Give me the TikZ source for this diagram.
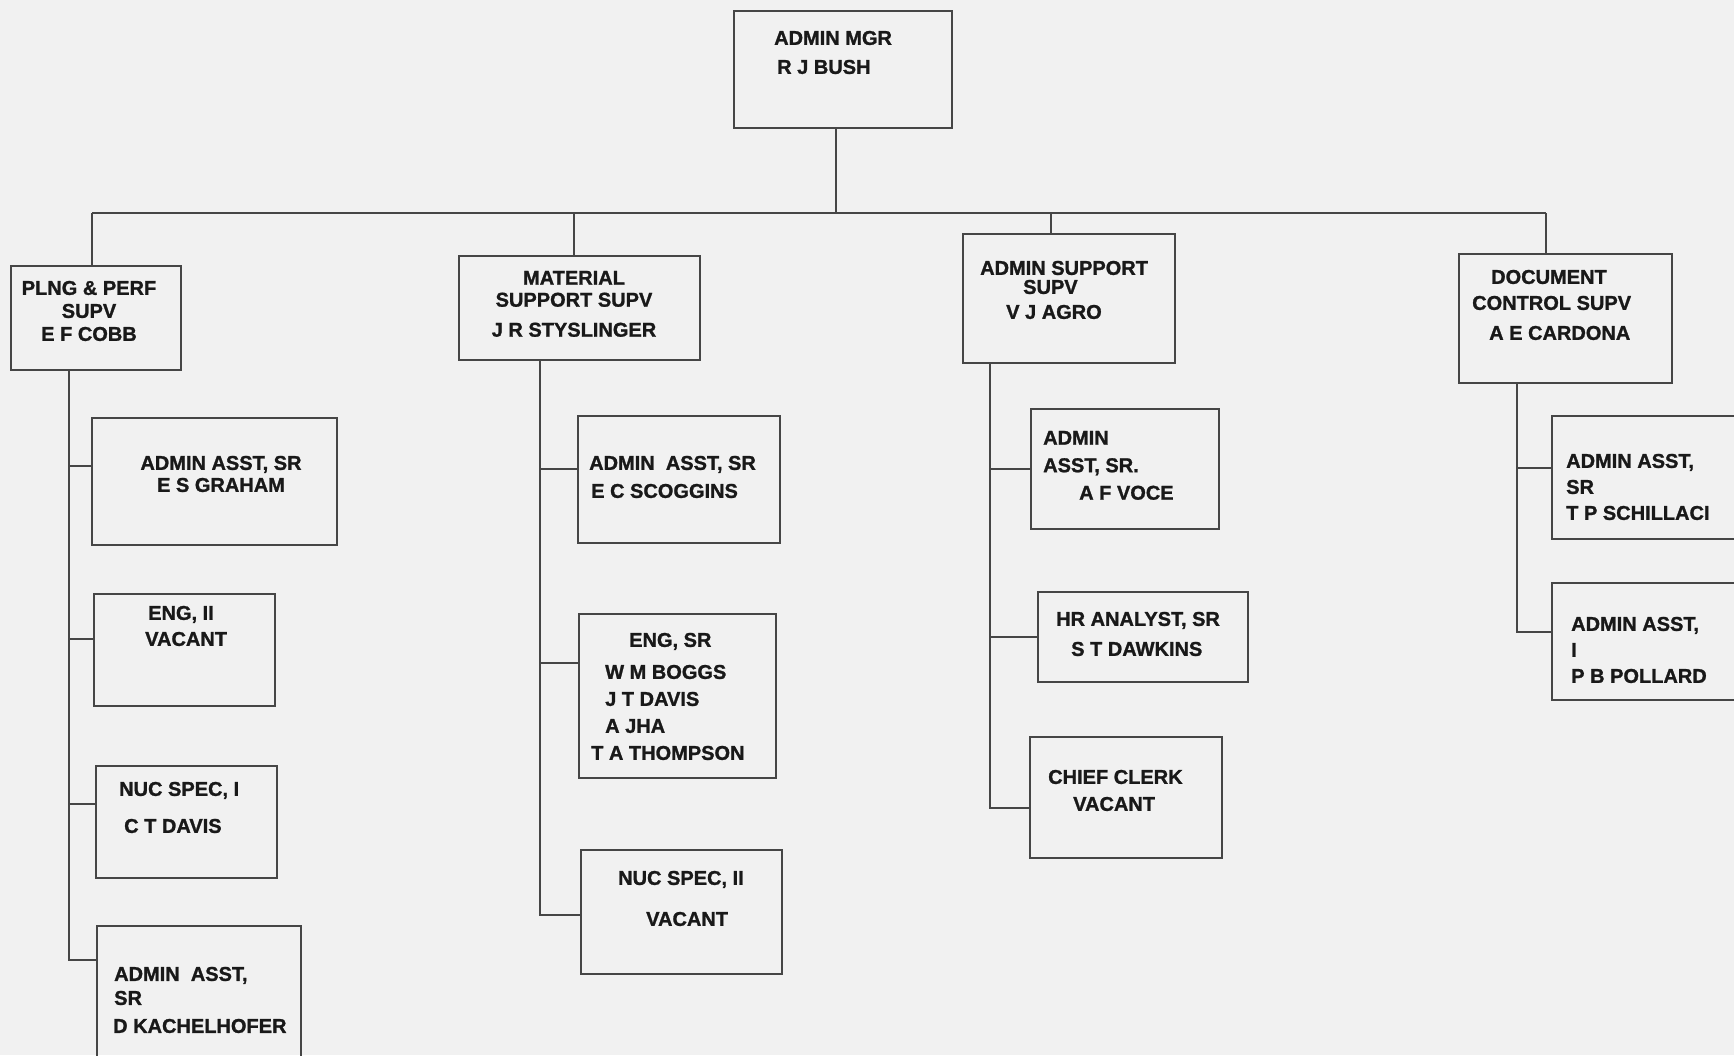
\documentclass[tikz,border=0pt]{standalone}
\usepackage{fontspec}
\setmainfont{Liberation Sans}[FakeBold=1.2]
\usetikzlibrary{positioning}
\definecolor{paper}{RGB}{241,241,241}
\definecolor{ink}{RGB}{70,70,70}

\begin{document}
\begin{tikzpicture}[x=1pt,y=-1pt,
  box/.style={draw=ink,line width=1.4pt,inner sep=0pt},
  lbl/.style={inner sep=0pt,text=black!90,font=\fontsize{20}{#1}\selectfont\bfseries},
  lbl/.default=26,
  wire/.style={draw=ink,line width=1.4pt}]
\fill[paper] (0,0) rectangle (1734,1055);
\useasboundingbox (0,0) rectangle (1734,1055);
% boxes
\node[box,minimum width=218pt,minimum height=117pt] (mgr) at (843,69.5) {};
\node[box,minimum width=170pt,minimum height=104pt] (plng) at (96,318) {};
\node[box,minimum width=241pt,minimum height=104pt] (mat) at (579.5,308) {};
\node[box,minimum width=212pt,minimum height=129pt] (sup) at (1069,298.5) {};
\node[box,minimum width=213pt,minimum height=129pt] (doc) at (1565.5,318.5) {};
\node[box,minimum width=245pt,minimum height=127pt] (graham) at (214.5,481.5) {};
\node[box,minimum width=181pt,minimum height=112pt] (eng2) at (184.5,650) {};
\node[box,minimum width=181pt,minimum height=112pt] (nuc1) at (186.5,822) {};
\node[box,minimum width=204pt,minimum height=144pt] (kach) at (199,998) {};
\node[box,minimum width=202pt,minimum height=127pt] (scog) at (679,479.5) {};
\node[box,minimum width=197pt,minimum height=164pt] (engsr) at (677.5,696) {};
\node[box,minimum width=201pt,minimum height=124pt] (nuc2) at (681.5,912) {};
\node[box,minimum width=188pt,minimum height=120pt] (voce) at (1125,469) {};
\node[box,minimum width=210pt,minimum height=90pt] (hr) at (1143,637) {};
\node[box,minimum width=192pt,minimum height=121pt] (clerk) at (1126,797.5) {};
\node[box,minimum width=208pt,minimum height=123pt] (schil) at (1656,477.5) {};
\node[box,minimum width=208pt,minimum height=117pt] (poll) at (1656,641.5) {};
% texts
\node[lbl=29,anchor=north west,align=left] (mgr-t) at (774,30.7) {ADMIN MGR\\\hspace*{3pt}R J BUSH};
\node[lbl=23,anchor=north,align=center] (plng-t) at (89,280.7) {PLNG \& PERF\\SUPV\\E F COBB};
\node[lbl=22,anchor=north,align=center] (mat-t) at (574,270.7) {MATERIAL\\SUPPORT SUPV\\[8pt]J R STYSLINGER};
\node[lbl=19,anchor=north west,align=left] (sup-t) at (980,260.7) {ADMIN SUPPORT\\\hspace*{43pt}SUPV\\[6pt]\hspace*{26pt}V J AGRO};
\node[lbl=26,anchor=north west,align=left] (doc-t) at (1472,269.7) {\hspace*{19pt}DOCUMENT\\CONTROL SUPV\\[4pt]\hspace*{17pt}A E CARDONA};
\node[lbl=22,anchor=north,align=center] (graham-t) at (221,455.7) {ADMIN ASST, SR\\E S GRAHAM};
\node[lbl=26,anchor=north west,align=left] (eng2-t) at (145,605.7) {\hspace*{3pt}ENG, II\\VACANT};
\node[lbl=37,anchor=north west,align=left] (nuc1-t) at (119,781.7) {NUC SPEC, I\\\hspace*{5pt}C T DAVIS};
\node[lbl=24,anchor=north west,align=left] (kach-t) at (113,966.7) {\hspace*{1pt}ADMIN~ ASST,\\\hspace*{1pt}SR\\[4pt]D KACHELHOFER};
\node[lbl=28,anchor=north west,align=left] (scog-t) at (589,455.7) {ADMIN~ ASST, SR\\\hspace*{2pt}E C SCOGGINS};
\node[lbl=27,anchor=north west,align=left] (engsr-t) at (591,632.7) {\hspace*{38pt}ENG, SR\\[5pt]\hspace*{14pt}W M BOGGS\\\hspace*{14pt}J T DAVIS\\\hspace*{14pt}A JHA\\T A THOMPSON};
\node[lbl=41,anchor=north west,align=left] (nuc2-t) at (618,870.7) {NUC SPEC, II\\\hspace*{28pt}VACANT};
\node[lbl=27.5,anchor=north west,align=left] (voce-t) at (1043,430.7) {ADMIN\\ASST, SR.\\\hspace*{36pt}A F VOCE};
\node[lbl=30,anchor=north west,align=left] (hr-t) at (1056,611.7) {HR ANALYST, SR\\\hspace*{15pt}S T DAWKINS};
\node[lbl=27,anchor=north west,align=left] (clerk-t) at (1048,769.7) {CHIEF CLERK\\\hspace*{25pt}VACANT};
\node[lbl=26,anchor=north west,align=left] (schil-t) at (1566,453.7) {ADMIN ASST,\\SR\\T P SCHILLACI};
\node[lbl=26,anchor=north west,align=left] (poll-t) at (1571,616.7) {ADMIN ASST,\\I\\P B POLLARD};
% top bus
\coordinate (bl) at (92,213);
\coordinate (br) at (1546,213);
\draw[wire] (bl) -- (br);
\draw[wire] ([xshift=-7pt]mgr.south) -- ([xshift=-7pt]mgr.south |- bl);
\draw[wire] ([xshift=-4pt]plng.north) -- ([xshift=-4pt]plng.north |- bl);
\draw[wire] ([xshift=-5.5pt]mat.north) -- ([xshift=-5.5pt]mat.north |- bl);
\draw[wire] ([xshift=-18pt]sup.north) -- ([xshift=-18pt]sup.north |- bl);
\draw[wire] ([xshift=-19.5pt]doc.north) -- ([xshift=-19.5pt]doc.north |- bl);
% branches
\coordinate (plng-s) at ([xshift=-27pt]plng.south);
\coordinate (mat-s) at ([xshift=-39.5pt]mat.south);
\coordinate (sup-s) at ([xshift=-79pt]sup.south);
\coordinate (doc-s) at ([xshift=-48.5pt]doc.south);
\draw[wire] ([yshift=15.5pt]graham.west) -| (plng-s);
\draw[wire] ([yshift=11pt]eng2.west) -| (plng-s);
\draw[wire] ([yshift=18pt]nuc1.west) -| (plng-s);
\draw[wire] ([yshift=38pt]kach.west) -| (plng-s);
\draw[wire] ([yshift=10.5pt]scog.west) -| (mat-s);
\draw[wire] ([yshift=33pt]engsr.west) -| (mat-s);
\draw[wire] ([yshift=-3pt]nuc2.west) -| (mat-s);
\draw[wire] (voce.west) -| (sup-s);
\draw[wire] (hr.west) -| (sup-s);
\draw[wire] ([yshift=-10.5pt]clerk.west) -| (sup-s);
\draw[wire] ([yshift=9.5pt]schil.west) -| (doc-s);
\draw[wire] ([yshift=9.5pt]poll.west) -| (doc-s);
\end{tikzpicture}
\end{document}
